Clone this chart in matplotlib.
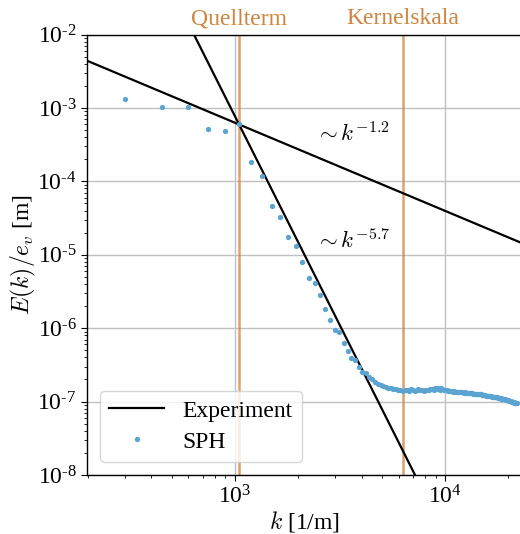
import numpy as np
import matplotlib
matplotlib.use("Agg")
import matplotlib.pyplot as plt
from matplotlib.ticker import FuncFormatter, LogLocator
import matplotlib.transforms as mtransforms

plt.rcParams["font.family"] = "serif"
plt.rcParams["font.serif"] = ["Liberation Serif", "DejaVu Serif"]
plt.rcParams["mathtext.fontset"] = "cm"
plt.rcParams["axes.unicode_minus"] = False

# --- SPH energy spectrum: wavenumber index n (k = n * dk) and E(k)/e_v ---
dk = 149.3  # wavenumber spacing [1/m]
n_modes = np.arange(2, 148)
E_sph = [
    1.32e-3, 1.03e-3, 1.04e-3, 5.2e-4, 4.85e-4, 6.0e-4, 1.85e-4, 1.19e-4,
    4.66e-5, 3.30e-5, 1.75e-5, 1.33e-5, 7.9e-6, 4.87e-6, 4.16e-6, 2.79e-6,
    1.81e-6, 1.31e-6, 9.36e-7, 8.79e-7, 6.34e-7, 4.94e-7, 3.96e-7, 3.66e-7,
    2.96e-7, 2.49e-7, 2.43e-7, 2.16e-7, 2.03e-7, 1.85e-7, 1.76e-7, 1.68e-7,
    1.61e-7, 1.58e-7, 1.53e-7, 1.51e-7, 1.49e-7,
    # n = 39 .. 56
    1.47e-7, 1.42e-7, 1.45e-7, 1.40e-7, 1.46e-7, 1.43e-7, 1.41e-7, 1.47e-7,
    1.44e-7, 1.39e-7, 1.45e-7, 1.48e-7, 1.42e-7, 1.44e-7, 1.40e-7, 1.46e-7,
    1.43e-7, 1.45e-7,
    # n = 57 .. 66
    1.47e-7, 1.50e-7, 1.44e-7, 1.52e-7, 1.49e-7, 1.55e-7, 1.46e-7, 1.51e-7,
    1.48e-7, 1.45e-7,
    # n = 67 .. 75
    1.42e-7, 1.44e-7, 1.40e-7, 1.41e-7, 1.38e-7, 1.39e-7, 1.37e-7, 1.38e-7,
    1.36e-7,
    # n = 76 .. 85
    1.36e-7, 1.35e-7, 1.36e-7, 1.34e-7, 1.33e-7, 1.34e-7, 1.32e-7, 1.33e-7,
    1.31e-7, 1.31e-7,
    # n = 86 .. 95
    1.31e-7, 1.30e-7, 1.30e-7, 1.29e-7, 1.29e-7, 1.28e-7, 1.28e-7, 1.27e-7,
    1.27e-7, 1.26e-7,
    # n = 96 .. 105
    1.27e-7, 1.26e-7, 1.26e-7, 1.25e-7, 1.24e-7, 1.24e-7, 1.23e-7, 1.23e-7,
    1.22e-7, 1.21e-7,
    # n = 106 .. 115
    1.21e-7, 1.20e-7, 1.20e-7, 1.19e-7, 1.18e-7, 1.18e-7, 1.17e-7, 1.17e-7,
    1.16e-7, 1.16e-7,
    # n = 116 .. 125
    1.15e-7, 1.14e-7, 1.14e-7, 1.13e-7, 1.12e-7, 1.12e-7, 1.11e-7, 1.11e-7,
    1.10e-7, 1.09e-7,
    # n = 126 .. 135
    1.09e-7, 1.08e-7, 1.08e-7, 1.07e-7, 1.06e-7, 1.06e-7, 1.05e-7, 1.04e-7,
    1.04e-7, 1.03e-7,
    # n = 136 .. 147
    1.02e-7, 1.02e-7, 1.01e-7, 1.00e-7, 0.99e-7, 0.99e-7, 0.98e-7, 0.97e-7,
    0.97e-7, 0.96e-7, 0.95e-7, 0.95e-7,
]
k_sph = n_modes * dk

# --- experimental power laws, crossing at the source scale ---
k_cross = 1045.0
E_cross = 5.95e-4
exponents = [-1.2, -5.7]

# --- characteristic scales ---
k_source = 1045.0   # Quellterm
k_kernel = 6300.0   # Kernelskala

xlim = (197.3, 23100.0)
ylim = (1e-8, 1e-2)

fig = plt.figure(figsize=(5.20, 5.34), dpi=100)
ax = fig.add_axes([87 / 520, 1 - 475 / 534, 434.5 / 520, 440.5 / 534])
ax.set_xscale("log")
ax.set_yscale("log")
ax.set_xlim(*xlim)
ax.set_ylim(*ylim)

ax.grid(True, which="major", color="#c0c0c0", lw=1.0, zorder=0)
ax.set_axisbelow(True)

scale_color = "peru"
for kv in (k_source, k_kernel):
    ax.axvline(kv, color=scale_color, alpha=0.75, lw=1.8, zorder=1)
trans = mtransforms.blended_transform_factory(ax.transData, ax.transAxes)
ax.text(k_source, 1.012, "Quellterm", transform=trans, ha="center", va="bottom",
        color=scale_color, fontsize=17)
ax.text(k_kernel, 1.012, "Kernelskala", transform=trans, ha="center", va="bottom",
        color=scale_color, fontsize=17)

k_line = np.geomspace(xlim[0], xlim[1], 200)
for i, p in enumerate(exponents):
    ax.plot(k_line, E_cross * (k_line / k_cross) ** p, color="black", lw=1.6,
            label="Experiment" if i == 0 else None, zorder=3)

ax.plot(k_sph, E_sph, linestyle="none", marker="o", markersize=3.8,
        markeredgewidth=0, color="#5ba4d2", label="SPH", zorder=4)

ax.text(2400, 3.5e-4, r"$\sim k^{-1.2}$", fontsize=16.5, va="baseline", ha="left")
ax.text(2400, 1.25e-5, r"$\sim k^{-5.7}$", fontsize=16.5, va="baseline", ha="left")


def sci_label(v, pos):
    e = int(round(np.log10(v)))
    s = "\u2010%d" % abs(e) if e < 0 else "%d" % e
    return r"$\mathdefault{10^{%s}}$" % s


ax.xaxis.set_major_locator(LogLocator(base=10, numticks=10))
ax.yaxis.set_major_locator(LogLocator(base=10, numticks=10))
ax.xaxis.set_major_formatter(FuncFormatter(sci_label))
ax.yaxis.set_major_formatter(FuncFormatter(sci_label))
ax.tick_params(which="major", labelsize=17, length=4, width=0.8)
ax.tick_params(which="minor", length=2.2, width=0.6)

for side in ("left", "bottom", "top"):
    ax.spines[side].set_color("black")
    ax.spines[side].set_linewidth(1.0)
ax.spines["right"].set_visible(False)

ax.set_xlabel(r"$k$ [1/m]", fontsize=17)
ax.set_ylabel(r"$E(k)/e_v$ [m]", fontsize=17)
ax.xaxis.set_label_coords(0.5, -0.078)
ax.yaxis.set_label_coords(-0.113, 0.5)

ax.legend(loc="lower left", fontsize=17, handlelength=2.3, handletextpad=0.8,
          borderaxespad=0.55, borderpad=0.4, labelspacing=0.4)

fig.savefig("out.png", dpi=100)
